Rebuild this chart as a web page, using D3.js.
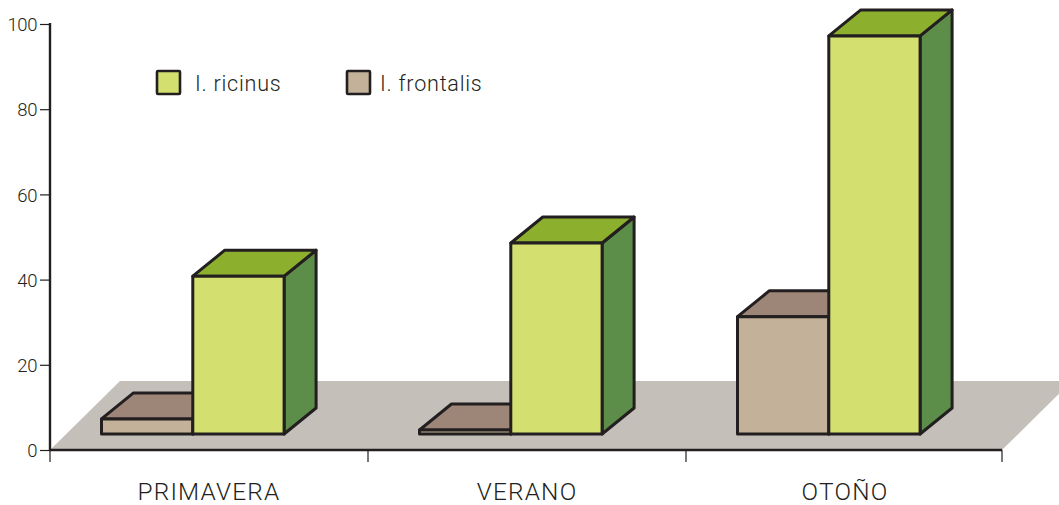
<!DOCTYPE html>
<html><head><meta charset="utf-8">
<script src="https://cdn.jsdelivr.net/npm/d3@7/dist/d3.min.js"></script>
<style>html,body{margin:0;padding:0;background:#fff;overflow:hidden}svg{display:block}text{font-family:Roboto,sans-serif;font-weight:300;fill:#231f20}</style>
</head><body><svg id="c" width="1059" height="505"></svg>
<script>
const categories = ["PRIMAVERA","VERANO","OTOÑO"];
const seriesNames = ["I. frontalis","I. ricinus"];
const frontalis = [7.3,4.7,31.3];
const ricinus = [40.8,48.6,97.2];
const baseValue = 3.75;
const tickValues = [0,20,40,60,80,100];
const faceColors = {
  "I. ricinus":{front:"#d3e06f",top:"#8cb02e",side:"#5c8e49"},
  "I. frontalis":{front:"#c3b299",top:"#9d8678",side:"#8a7565"}
};
const ink="#231f20", axisEnd=1002;
const svg=d3.select("#c");
const y=d3.scaleLinear().domain([0,100]).range([450,24]);
const x=d3.scaleBand().domain(categories).range([50,1004]);
const barW=91.3, dx=32, dy=26;
const pts=a=>a.map(p=>p.join(",")).join(" ");

svg.append("polygon").attr("points",pts([[50,450],[120,381],[1072,381],[axisEnd,450]])).attr("fill","#c4c0b9");

const yAxis=d3.axisLeft(y).tickValues(tickValues).tickSize(10).tickPadding(3);
const gy=svg.append("g").attr("transform","translate(50,0)").call(yAxis);
gy.select(".domain").remove();
gy.selectAll("line").attr("stroke",ink).attr("stroke-width",1.2);
gy.selectAll("text").attr("font-size",18.5).attr("dy","0.36em").attr("fill",ink).style("letter-spacing","-0.4px");
svg.append("line").attr("x1",50).attr("x2",50).attr("y1",y(100)-1).attr("y2",451).attr("stroke",ink).attr("stroke-width",2.4);
svg.append("line").attr("x1",49).attr("x2",axisEnd).attr("y1",450).attr("y2",450).attr("stroke",ink).attr("stroke-width",2.4);

const xEdges=[x.range()[0],x(categories[1]),x(categories[2]),axisEnd];
svg.append("g").selectAll("line").data(xEdges).join("line")
  .attr("x1",d=>d).attr("x2",d=>d).attr("y1",450).attr("y2",462).attr("stroke",ink).attr("stroke-width",1.2);
svg.append("g").selectAll("text").data(categories).join("text")
  .attr("x",c=>x(c)+x.bandwidth()/2).attr("y",499.5).attr("text-anchor","middle").attr("font-size",24.4).style("letter-spacing","1.2px").text(d=>d);

function bar(g,name,cat,val,i){
  const c=faceColors[name];
  const x0=x(cat)+51.5+i*barW, x1=x0+barW, yt=y(val), yb=y(baseValue);
  const s=g.append("g").attr("stroke",ink).attr("stroke-width",3).attr("stroke-linejoin","round");
  s.append("polygon").attr("points",pts([[x1,yt],[x1+dx,yt-dy],[x1+dx,yb-dy],[x1,yb]])).attr("fill",c.side);
  s.append("polygon").attr("points",pts([[x0,yt],[x0+dx,yt-dy],[x1+dx,yt-dy],[x1,yt]])).attr("fill",c.top);
  s.append("rect").attr("x",x0).attr("y",yt).attr("width",barW).attr("height",yb-yt).attr("fill",c.front);
}
const bars=svg.append("g");
categories.forEach((cat,k)=>{
  bar(bars,"I. frontalis",cat,frontalis[k],0);
  bar(bars,"I. ricinus",cat,ricinus[k],1);
});

const legendKeys=[["I. ricinus",156,195],["I. frontalis",346,380]];
const lg=svg.append("g");
legendKeys.forEach(([n,sx,tx])=>{
  lg.append("rect").attr("x",sx+1).attr("y",71).attr("width",23).attr("height",23).attr("fill",faceColors[n].front).attr("stroke",ink).attr("stroke-width",2.6).attr("rx",1);
  lg.append("text").attr("x",tx).attr("y",91).attr("font-size",21.6).style("letter-spacing","0.75px").text(n);
});
</script></body></html>
